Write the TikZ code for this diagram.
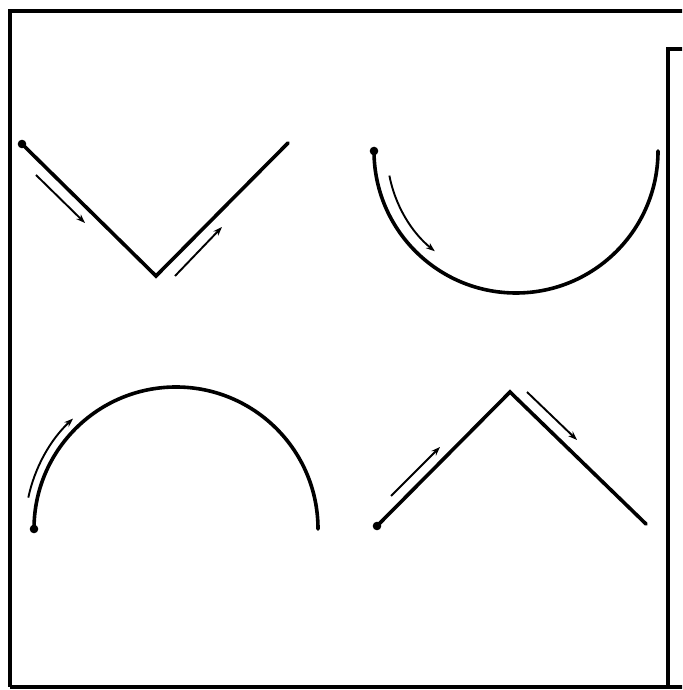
\documentclass[tikz,border=0pt]{standalone}
\usetikzlibrary{arrows.meta,calc}
\begin{document}
\begin{tikzpicture}[x=1pt,y=1pt,
  frame/.style={line width=3.2pt,black},
  curve/.style={line width=3.6pt,black,line cap=round,line join=miter},
  motion/.style={line width=1.9pt,black,-{Stealth[length=9pt,width=6.5pt]}},
  startdot/.style={fill=black}]
\useasboundingbox (0,0) rectangle (682,690);
\begin{scope}
\clip (0,0) rectangle (682,690);
% frames
\draw[frame] (10,3) -- (10,679) -- (700,679);
\draw[frame] (700,3) -- (10,3);
\draw[frame] (700,641) -- (668,641) -- (668,3);
\end{scope}
% top-left V
\coordinate (va) at (22,546);
\coordinate (vb) at (156,414);
\coordinate (vc) at (288,547);
\draw[curve] (va) -- (vb) -- (vc);
\fill[startdot] (va) circle (4.3);
\coordinate (v1s) at (36,515); \coordinate (v1e) at (85,467);
\coordinate (v2s) at (175,414); \coordinate (v2e) at (222,463);
\draw[motion] (v1s) -- (v1e);
\draw[motion] (v2s) -- (v2e);
% top-right bowl
\coordinate (uc) at (516,539);
\coordinate (ua) at (374,539);
\draw[curve] (ua) arc[start angle=180,end angle=360,radius=142];
\fill[startdot] (ua) circle (4.3);
\draw[motion] ($(uc)+(191:129)$) arc[start angle=191,end angle=231,radius=129];
% bottom-left dome
\coordinate (dc) at (176,161);
\coordinate (da) at (34,161);
\draw[curve] (da) arc[start angle=180,end angle=0,radius=142];
\fill[startdot] (da) circle (4.3);
\draw[motion] ($(dc)+(168:151)$) arc[start angle=168,end angle=133,radius=151];
% bottom-right peak
\coordinate (pa) at (377,164);
\coordinate (pb) at (510,298);
\coordinate (pc) at (646,166);
\draw[curve] (pa) -- (pb) -- (pc);
\fill[startdot] (pa) circle (4.3);
\coordinate (p1s) at (391,194); \coordinate (p1e) at (440,243);
\coordinate (p2s) at (527,298); \coordinate (p2e) at (577,250);
\draw[motion] (p1s) -- (p1e);
\draw[motion] (p2s) -- (p2e);
\end{tikzpicture}
\end{document}
